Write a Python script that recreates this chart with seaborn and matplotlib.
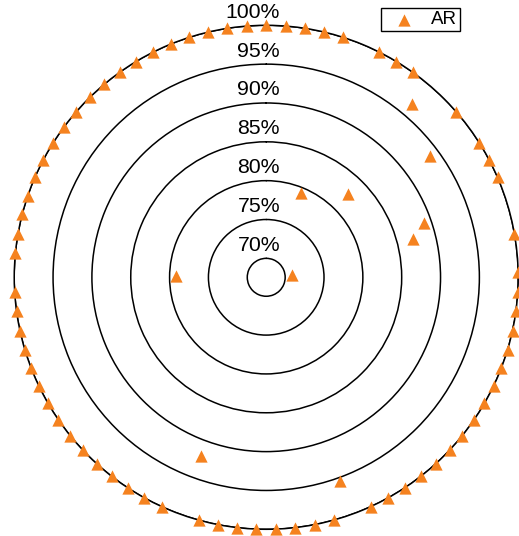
import numpy as np
import matplotlib
matplotlib.use('Agg')
import matplotlib.pyplot as plt
import seaborn as sns

sns.set_style('white')
plt.rcParams['font.family'] = ['Liberation Sans', 'DejaVu Sans']
plt.rcParams['text.color'] = 'black'

# 81 samples spaced evenly round the circle, clockwise from the top
series_name = 'AR'
ar_values = [
    100, 100, 100, 100, 100, 79.3, 100, 100, 100, 96.7,
    82.6, 100, 93.8, 100, 100, 100, 89.0, 87.1, 100, 70.9,
    100, 100, 100, 100, 100, 100, 100, 100, 100, 100,
    100, 100, 100, 100, 100, 100, 95.4, 100, 100, 100,
    100, 100, 100, 100, 100, 92.0, 100, 100, 100, 100,
    100, 100, 100, 100, 100, 100, 100, 100, 100, 100,
    100, 79.2, 100, 100, 100, 100, 100, 100, 100, 100,
    100, 100, 100, 100, 100, 100, 100, 100, 100, 100,
    100,
]
ring_ticks = [70, 75, 80, 85, 90, 95, 100]
ring_labels = ['70%', '75%', '80%', '85%', '90%', '95%', '100%']

theta = np.arange(len(ar_values)) * 2 * np.pi / len(ar_values)

fig = plt.figure(figsize=(5.19, 5.36), dpi=100)
ax = fig.add_axes([0.0274, 0.0125, 0.9711, 0.9403], projection='polar')
ax.set_theta_zero_location('N')
ax.set_theta_direction(-1)

sns.scatterplot(x=theta, y=ar_values, ax=ax, marker='^', color='#f5821f',
                s=78, linewidth=0, clip_on=False, label=series_name, zorder=3)

ax.set_ylim(67.56, 100)
ax.set_yticks(ring_ticks)
ax.set_yticklabels([])
ax.set_xticks([])
ax.yaxis.grid(True, color='black', linewidth=1.1)
ax.xaxis.grid(False)
ax.spines['polar'].set_color('black')
ax.spines['polar'].set_linewidth(1.1)

# ring labels sit just above each circle, right-aligned a bit past the top
for t, lab in zip(ring_ticks, ring_labels):
    ax.annotate(lab, xy=(0, t), xytext=(10, 5.5), textcoords='offset points',
                ha='right', va='baseline', fontsize=15.3, color='black',
                annotation_clip=False)

leg = ax.legend(loc='upper right', bbox_to_anchor=(460 / 519, 1 - 8.3 / 536),
                bbox_transform=fig.transFigure, fancybox=False, framealpha=1,
                edgecolor='black', fontsize=13.5, borderpad=0.16,
                handlelength=2.19, handletextpad=0.32, borderaxespad=0)
leg.get_frame().set_linewidth(1.0)
for txt in leg.get_texts():
    txt.set_color('black')

fig.savefig('out.png', dpi=100)
